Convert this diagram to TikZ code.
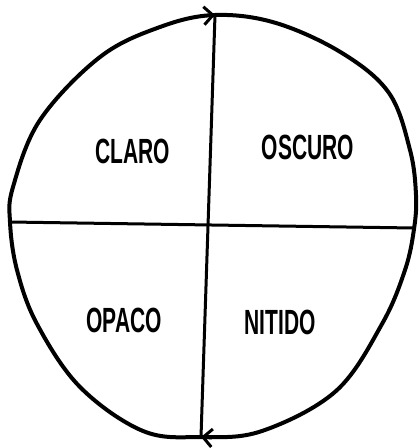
\documentclass[tikz,border=0pt]{standalone}
\usepackage{fontspec}
\setmainfont{Liberation Sans}
\usepackage{graphicx}
\usetikzlibrary{arrows.meta}
\newcommand{\hand}[1]{\scalebox{0.6}[1]{#1}}

\begin{document}
\begin{tikzpicture}[x=1pt, y=-1pt, every node/.style={font=\fontsize{35}{35}\selectfont\bfseries}]
\useasboundingbox (0,0) rectangle (419,448);

% ends of the cross
\coordinate (top) at (215,15);
\coordinate (bottom) at (201,437);
\coordinate (left) at (10,222);
\coordinate (right) at (414,228);

% round outline
\draw[black, line width=4pt, line join=round] plot[smooth cycle, tension=0.6] coordinates {
  (215,15) (276,23) (342,53) (389,93) (410,150) (416,195) (414,229) (405,270)
  (382,324) (336,391) (262,431) (201,437) (143,431) (80,387) (37,324)
  (17,270) (10,222) (13,187) (40,120) (100,57) (160,27)};

% cross lines
\draw[black, line width=3pt] (top) -- (bottom);   % vertical
\draw[black, line width=3pt] (left) -- (right);   % horizontal

% arrows on the outline
\coordinate (topback) at (200,16);
\coordinate (botback) at (212,438);
\draw[black, line width=3pt, -{Straight Barb[length=9pt, width=18pt]}] (topback) -- (top);
\draw[black, line width=3pt, -{Straight Barb[length=9pt, width=18pt]}] (botback) -- (bottom);

% words in the four parts
\foreach \name/\x/\y/\word in {claro/133/151/CLARO, oscuro/308/147/OSCURO, opaco/124/320/OPACO, nitido/280/322/NITIDO} {
    \node (\name) at (\x,\y) {\hand{\word}};
}

\end{tikzpicture}
\end{document}
